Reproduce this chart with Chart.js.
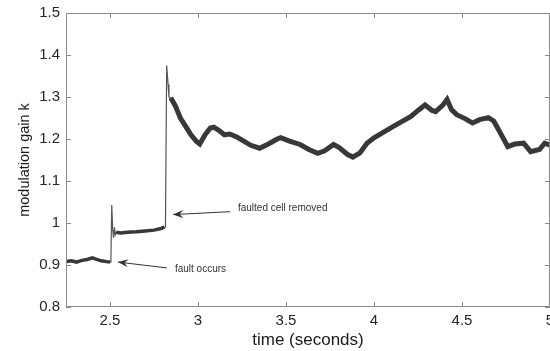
<!DOCTYPE html>
<html>
<head>
<meta charset="utf-8">
<script src="https://cdn.jsdelivr.net/npm/chart.js@4/dist/chart.umd.min.js"></script>
<style>
  html, body { margin: 0; padding: 0; background: #fff; overflow: hidden; }
  #wrap { width: 560px; height: 351px; }
</style>
</head>
<body>
<div id="wrap"><canvas id="chart" width="560" height="351"></canvas></div>
<script>
// trace (time in s, modulation gain k)
const time = [
  2.25, 2.28, 2.31, 2.34, 2.37, 2.40, 2.42, 2.45, 2.48, 2.50,
  2.505, 2.51, 2.515, 2.52, 2.525, 2.53, 2.535, 2.56, 2.60, 2.65,
  2.70, 2.75, 2.79, 2.81, 2.815, 2.822, 2.83, 2.835, 2.845, 2.87,
  2.90, 2.93, 2.96, 2.99, 3.01, 3.04, 3.07, 3.09, 3.12, 3.15,
  3.18, 3.22, 3.26, 3.30, 3.35, 3.40, 3.45, 3.47, 3.52, 3.58,
  3.63, 3.68, 3.72, 3.77, 3.80, 3.85, 3.88, 3.92, 3.96, 4.00,
  4.05, 4.11, 4.16, 4.21, 4.25, 4.29, 4.33, 4.35, 4.39, 4.415,
  4.44, 4.47, 4.52, 4.56, 4.60, 4.65, 4.68, 4.70, 4.73, 4.76,
  4.80, 4.85, 4.89, 4.94, 4.97, 5.00
];
const gain = [
  0.908, 0.910, 0.907, 0.911, 0.913, 0.917, 0.914, 0.910, 0.908, 0.907,
  0.910, 1.043, 0.985, 0.965, 0.990, 0.972, 0.978, 0.976, 0.978, 0.979,
  0.981, 0.983, 0.987, 0.990, 0.990, 1.375, 1.330, 1.300, 1.298, 1.280,
  1.250, 1.230, 1.210, 1.195, 1.188, 1.210, 1.226, 1.228, 1.220, 1.210,
  1.212, 1.205, 1.195, 1.185, 1.178, 1.188, 1.200, 1.203, 1.195, 1.187,
  1.175, 1.166, 1.172, 1.187, 1.180, 1.163, 1.157, 1.167, 1.190, 1.203,
  1.215, 1.230, 1.242, 1.254, 1.268, 1.281, 1.268, 1.265, 1.280, 1.294,
  1.270, 1.258, 1.248, 1.238, 1.246, 1.251, 1.243, 1.228, 1.205, 1.182,
  1.188, 1.190, 1.170, 1.175, 1.190, 1.185
];
// transients drawn as a thin line (start, end in seconds)
const transients = [[2.50, 2.535], [2.81, 2.845]];

const xTicks = [2.5, 3, 3.5, 4, 4.5, 5];
const yTicks = [0.8, 0.9, 1, 1.1, 1.2, 1.3, 1.4, 1.5];

const notes = [
  { text: 'faulted cell removed', tx: 3.227, ty: 1.036, from: [3.182, 1.027], to: [2.858, 1.020] },
  { text: 'fault occurs', tx: 2.869, ty: 0.891, from: [2.824, 0.893], to: [2.545, 0.907] }
];

const axisColor = '#8a8a8a';
const inkColor = '#262626';
const fontFamily = '"Liberation Sans", Arial, sans-serif';

const inTransient = t => transients.some(r => t >= r[0] && t < r[1]);

// box frame, inward ticks and arrow annotations
const framePlugin = {
  id: 'frame',
  afterDatasetsDraw(chart) {
    const c = chart.ctx, a = chart.chartArea;
    const xs = chart.scales.x, ys = chart.scales.y;
    c.save();
    c.strokeStyle = axisColor;
    c.lineWidth = 1;
    c.strokeRect(a.left + 0.5, a.top + 0.5, a.right - a.left - 1, a.bottom - a.top - 1);
    c.beginPath();
    xTicks.forEach(v => {
      const px = Math.round(xs.getPixelForValue(v)) + 0.5;
      c.moveTo(px, a.bottom); c.lineTo(px, a.bottom - 5);
      c.moveTo(px, a.top); c.lineTo(px, a.top + 5);
    });
    yTicks.forEach(v => {
      const py = Math.round(ys.getPixelForValue(v)) + 0.5;
      c.moveTo(a.left, py); c.lineTo(a.left + 5, py);
      c.moveTo(a.right, py); c.lineTo(a.right - 5, py);
    });
    c.stroke();

    c.strokeStyle = '#333';
    c.fillStyle = '#333';
    c.font = '10px ' + fontFamily;
    c.textBaseline = 'middle';
    notes.forEach(n => {
      const x0 = xs.getPixelForValue(n.from[0]), y0 = ys.getPixelForValue(n.from[1]);
      const x1 = xs.getPixelForValue(n.to[0]), y1 = ys.getPixelForValue(n.to[1]);
      const ang = Math.atan2(y1 - y0, x1 - x0);
      c.beginPath();
      c.moveTo(x0, y0); c.lineTo(x1, y1);
      c.stroke();
      const len = 11, w = 0.38;
      c.beginPath();
      c.moveTo(x1, y1);
      c.lineTo(x1 - len * Math.cos(ang - w), y1 - len * Math.sin(ang - w));
      c.lineTo(x1 - len * 0.6 * Math.cos(ang), y1 - len * 0.6 * Math.sin(ang));
      c.lineTo(x1 - len * Math.cos(ang + w), y1 - len * Math.sin(ang + w));
      c.closePath();
      c.fill();
      c.fillText(n.text, xs.getPixelForValue(n.tx), ys.getPixelForValue(n.ty));
    });
    c.restore();
  }
};

new Chart(document.getElementById('chart'), {
  type: 'line',
  data: {
    datasets: [{
      data: time.map((t, i) => ({ x: t, y: gain[i] })),
      borderColor: '#383838',
      borderWidth: 4,
      pointRadius: 0,
      tension: 0,
      segment: {
        borderWidth: ctx => inTransient(ctx.p0.parsed.x) ? 1.2 : (ctx.p0.parsed.x < 2.82 ? 3.5 : 5),
        borderColor: ctx => inTransient(ctx.p0.parsed.x) ? '#555' : '#383838'
      }
    }]
  },
  options: {
    responsive: false,
    animation: false,
    devicePixelRatio: 1,
    layout: { padding: { left: 0, right: 10, top: 13, bottom: 0 } },
    plugins: { legend: { display: false }, tooltip: { enabled: false } },
    scales: {
      x: {
        type: 'linear',
        min: 2.25,
        max: 5,
        afterBuildTicks: s => { s.ticks = xTicks.map(v => ({ value: v })); },
        afterFit: s => { s.paddingLeft = 0; s.paddingRight = 0; s.height = 44; },
        grid: { display: false, drawTicks: false },
        border: { display: false },
        ticks: {
          padding: 5,
          maxRotation: 0,
          color: inkColor,
          font: { family: fontFamily, size: 15 },
          callback: v => String(+v.toFixed(2))
        },
        title: {
          display: true,
          text: 'time (seconds)',
          color: '#1a1a1a',
          padding: { top: 0, bottom: 0 },
          font: { family: fontFamily, size: 17 }
        }
      },
      y: {
        min: 0.8,
        max: 1.5,
        afterBuildTicks: s => { s.ticks = yTicks.map(v => ({ value: v })); },
        afterFit: s => { s.paddingTop = 0; s.paddingBottom = 0; s.width = 66; },
        grid: { display: false, drawTicks: false },
        border: { display: false },
        ticks: {
          padding: 6,
          color: inkColor,
          font: { family: fontFamily, size: 15 },
          callback: v => String(+v.toFixed(2))
        },
        title: {
          display: true,
          text: 'modulation gain k',
          color: '#1a1a1a',
          padding: { top: 16, bottom: 0 },
          font: { family: fontFamily, size: 14.5 }
        }
      }
    }
  },
  plugins: [framePlugin]
});
</script>
</body>
</html>
